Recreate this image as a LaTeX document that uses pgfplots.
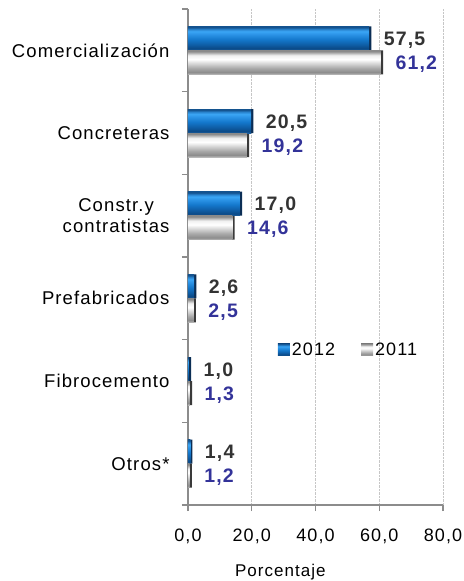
\documentclass[border=0pt]{standalone}
\usepackage{pgfplots}
\pgfplotsset{compat=1.18}
\usepackage{fontspec}
\setmainfont{Liberation Sans}[LetterSpace=6]
\definecolor{axisgray}{HTML}{8C8C8C}
\definecolor{lab12}{HTML}{333333}
\definecolor{lab11}{HTML}{333399}
% blue bar colours (bottom to top)
\definecolor{bA}{HTML}{1D5F9E}
\definecolor{bB}{HTML}{0B4A87}
\definecolor{bC}{HTML}{0F5FA8}
\definecolor{bD}{HTML}{1478CC}
\definecolor{bE}{HTML}{2B93E6}
\definecolor{bF}{HTML}{3BA6F5}
\definecolor{bG}{HTML}{2A85D0}
\definecolor{bH}{HTML}{14538F}
\definecolor{bEnd}{HTML}{0B2E55}
% gray bar colours
\definecolor{gA}{HTML}{B8B8B8}
\definecolor{gB}{HTML}{8C8C8C}
\definecolor{gC}{HTML}{A8A8A8}
\definecolor{gD}{HTML}{D8D8D8}
\definecolor{gE}{HTML}{FFFFFF}
\definecolor{gF}{HTML}{F0F0F0}
\definecolor{gG}{HTML}{BDBDBD}
\definecolor{gH}{HTML}{8A8A8A}
\definecolor{gEnd}{HTML}{3A3A3A}
\pgfdeclareverticalshading{bluebar}{100bp}{color(0bp)=(bA); color(25bp)=(bA); color(29.17bp)=(bB); color(37.5bp)=(bC); color(47.92bp)=(bD); color(58.33bp)=(bE); color(64.58bp)=(bF); color(68.75bp)=(bG); color(72.92bp)=(bH); color(75bp)=(bH); color(100bp)=(bH)}
\pgfdeclareverticalshading{graybar}{100bp}{color(0bp)=(gA); color(25bp)=(gA); color(29.17bp)=(gB); color(37.5bp)=(gC); color(47.92bp)=(gD); color(56.25bp)=(gE); color(64.58bp)=(gF); color(68.75bp)=(gG); color(72.92bp)=(gH); color(75bp)=(gH); color(100bp)=(gH)}
\pgfplotsset{
  blueface/.style={forget plot, draw=none, shading=bluebar, bar shift=12bp, xshift=-2.2bp},
  grayface/.style={forget plot, draw=none, shading=graybar, bar shift=-12bp, xshift=-2.2bp},
}
\begin{document}
\begin{tikzpicture}
\begin{axis}[
  at={(0,0)}, anchor=south west,
  scale only axis, width=255bp, height=496bp,
  xbar, y dir=reverse,
  bar width=24bp,
  xmin=0, xmax=80, ymin=-0.5, ymax=5.5,
  axis x line*=bottom, axis y line*=left,
  axis line style={draw=axisgray, line width=1.5bp},
  xtick={0,20,40,60,80},
  xmajorgrids, major grid style={densely dotted, draw=gray!45, line width=0.8bp},
  ytick={0,1,2,3,4,5},
  yticklabels={Comercialización, Concreteras, {Constr.y\\contratistas}, Prefabricados, Fibrocemento, Otros*},
  minor ytick={-0.5,0.5,1.5,2.5,3.5,4.5,5.5},
  tick align=outside,
  major tick length=6bp, minor tick length=6bp,
  tick style={draw=axisgray, line width=1.2bp},
  major y tick style={draw=none},
  minor y tick style={draw=axisgray, line width=1.2bp},
  yticklabel style={font=\fontsize{18.5bp}{21bp}\selectfont, align=center, xshift=-9bp},
  xticklabel style={font=\fontsize{18bp}{20bp}\selectfont, yshift=-14bp},
  /pgf/number format/assume math mode=true,
  xticklabel={\pgfmathprintnumber[fixed,fixed zerofill,precision=1,use comma]{\tick}},
  xlabel={Porcentaje},
  xlabel style={font=\fontsize{17bp}{19bp}\selectfont, at={(axis description cs:0.362,0)}, anchor=north, yshift=-56bp},
  nodes near coords style={font=\bfseries\fontsize{19.5bp}{21bp}\selectfont, anchor=west, xshift=9bp, yshift=-2bp},
  legend style={draw=none, fill=none, at={(axis description cs:0.34,0.313)}, anchor=west,
    legend columns=2, font=\fontsize{18bp}{20bp}\selectfont,
    /tikz/every even column/.append style={column sep=24bp}},
  legend cell align=left,
]
% dark underlays (bar ends) with value labels
\addplot[draw=none, fill=bEnd, bar shift=12bp,
  nodes near coords={\pgfmathprintnumber[fixed,fixed zerofill,precision=1,use comma]{\pgfplotspointmeta}},
  every node near coord/.append style={text=lab12},
  legend image code/.code={\shade[shading=bluebar] (0bp,-6bp) rectangle (12bp,6bp);}]
  coordinates {(57.5,0) (20.5,1) (17.0,2) (2.6,3) (1.0,4) (1.4,5)};
\addlegendentry{2012}
\addplot[draw=none, fill=gEnd, bar shift=-12bp,
  nodes near coords={\pgfmathprintnumber[fixed,fixed zerofill,precision=1,use comma]{\pgfplotspointmeta}},
  every node near coord/.append style={text=lab11},
  legend image code/.code={\shade[shading=graybar] (0bp,-6bp) rectangle (12bp,6bp);}]
  coordinates {(61.2,0) (19.2,1) (14.6,2) (2.5,3) (1.3,4) (1.2,5)};
\addlegendentry{2011}
% shaded faces, one bar each
\addplot[blueface] coordinates {(57.5,0)};
\addplot[blueface] coordinates {(20.5,1)};
\addplot[blueface] coordinates {(17.0,2)};
\addplot[blueface] coordinates {(2.6,3)};
\addplot[blueface] coordinates {(1.0,4)};
\addplot[blueface] coordinates {(1.4,5)};
\addplot[grayface] coordinates {(61.2,0)};
\addplot[grayface] coordinates {(19.2,1)};
\addplot[grayface] coordinates {(14.6,2)};
\addplot[grayface] coordinates {(2.5,3)};
\addplot[grayface] coordinates {(1.3,4)};
\addplot[grayface] coordinates {(1.2,5)};
\end{axis}
\pgfresetboundingbox
\path[use as bounding box] (-188bp,-76bp) rectangle (276bp,505bp);
\end{tikzpicture}
\end{document}
